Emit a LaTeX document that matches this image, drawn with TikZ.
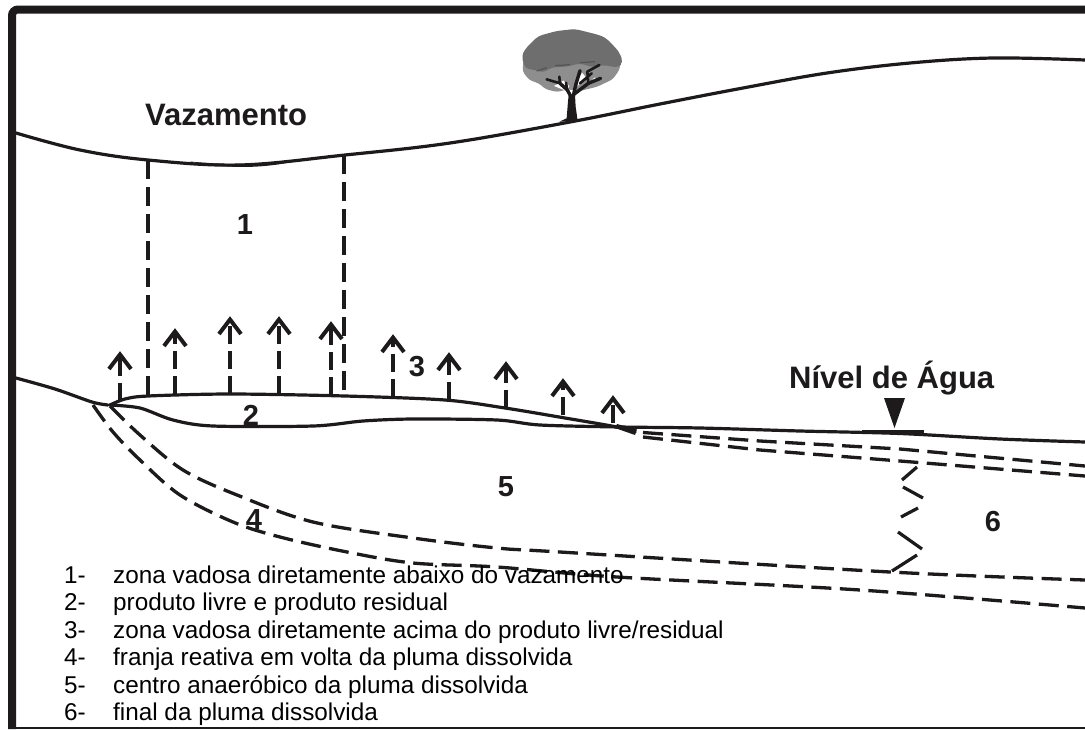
\documentclass[tikz,border=0pt]{standalone}
\usepackage{fontspec}
\setmainfont{Liberation Sans}
\definecolor{ink}{HTML}{1C1A1A}
\definecolor{crowndark}{HTML}{6E6E6E}
\definecolor{crownlight}{HTML}{8E8E8E}
\tikzset{
  ground/.style={draw=ink,line width=3.2pt,line cap=round,line join=round},
  plume/.style={draw=ink,line width=3.3pt,dash pattern=on 20pt off 8.5pt},
  vertdash/.style={draw=ink,line width=3.3pt,dash pattern=on 19pt off 8pt},
  zonelabel/.style={font=\bfseries\fontsize{29}{29}\selectfont,text=ink,inner sep=0pt},
  titlelabel/.style={font=\bfseries\fontsize{31}{31}\selectfont,text=ink,inner sep=0pt,anchor=base west},
  legendnum/.style={font=\fontsize{24.3}{24.3}\selectfont,text=black,inner sep=0pt,anchor=base west},
  legendtext/.style={font=\fontsize{24.3}{24.3}\selectfont,text=black,inner sep=0pt,anchor=base west},
  chevron/.style={draw=ink,line width=4pt,line join=miter,line cap=butt},
  branch/.style={draw=ink,line cap=round,line join=round},
}
\begin{document}
\begin{tikzpicture}[x=1pt,y=-1pt]
\useasboundingbox[fill=white] (0,0) rectangle (1085,729);

% outer frame, open on the right
\draw[draw=ink,line width=8pt,rounded corners=6pt] (12,729) -- (12,9.5) -- (1085,9.5);
\draw[draw=ink,line width=1.8pt] (12,728) -- (1085,728);

% land surface
\draw[ground] plot[smooth,tension=0.6] coordinates {(16,133) (80,150) (148,160) (240,165) (345,155) (450,143) (570,122) (660,104) (743,88) (827,73) (910,63) (993,58) (1085,60)};
\fill[ink] (190,161.5) .. controls (225,165) and (265,165) .. (300,160) .. controls (265,169) and (225,169) .. (190,161.5) -- cycle;

% tree: lower foliage, upper foliage, white gaps, trunk and branches
\begin{scope}[shift={(480,20)},x=0.3333pt,y=-0.3333pt]
  \fill[crownlight,rounded corners=3pt] (130,120) -- (128,155) -- (148,180) -- (176,190) -- (198,208) -- (232,216) -- (262,208) -- (300,213) -- (352,200) -- (398,178) -- (418,150) -- (424,120) -- cycle;
  \fill[crowndark,rounded corners=4pt] (125,108) -- (135,88) -- (150,72) -- (175,48) -- (230,33) -- (285,27) -- (350,43) -- (375,52) -- (392,68) -- (417,95) -- (429,125) -- (416,143) -- (370,135) -- (340,142) -- (300,130) -- (260,140) -- (215,142) -- (190,158) -- (165,150) -- (135,145) -- cycle;
  \fill[white] (222,198) -- (262,214) -- (268,198) -- (250,182) -- cycle;
  \fill[white] (293,198) -- (318,172) -- (306,158) -- (296,178) -- cycle;
  \fill[white] (325,190) -- (352,185) -- (345,172) -- cycle;
  \draw[ink!75,line width=1.2pt] (170,153) -- (200,143) (225,137) -- (270,134) (300,128) -- (345,125);
  \fill[ink] (238,305) -- (260,295) -- (264,245) -- (266,225) -- (285,225) -- (287,260) -- (293,303) -- cycle;
  \draw[branch,line width=3.4pt] (272,228) -- (262,210) -- (240,190);
  \draw[branch,line width=2.6pt] (240,190) -- (200,178) (240,190) -- (238,170);
  \draw[branch,line width=3.4pt] (280,228) -- (287,195) -- (300,152);
  \draw[branch,line width=3.4pt] (283,222) -- (325,190) -- (362,175);
  \draw[branch,line width=2.6pt] (325,190) -- (322,155) -- (358,135) (300,190) -- (335,160) (262,210) -- (258,188);
\end{scope}

% water table and free-product lens
\draw[ground] plot[smooth,tension=0.5] coordinates {(16,378) (55,389) (92,402) (108,405)};
\draw[ground] plot[smooth,tension=0.5] coordinates {(110,405) (125,399) (148,396) (230,394) (345,396) (445,400) (505,408) (565,418) (617,427) (635,432)};
\draw[ground] plot[smooth,tension=0.5] coordinates {(110,405) (140,408) (173,420) (213,426) (313,426) (363,421) (413,419) (497,420) (540,425) (620,427) (700,428) (800,431) (900,433.5) (1000,439) (1085,442)};
\fill[ink] (617,424) -- (637,429.5) -- (635,435) -- (615,428) -- cycle;

% water level marker
\draw[draw=ink,line width=3.6pt] (862,432) -- (924,432);
\fill[ink] (884,398) -- (905,398) -- (894.5,428) -- cycle;

% dissolved plume boundaries
\draw[plume] (643,432.5) -- (760,441) -- (900,449) -- (1085,466);
\draw[plume] (643,437) -- (760,450) -- (900,461) -- (1085,476);
\draw[plume] plot[smooth,tension=0.55] coordinates {(110,406) (140,435) (183,470) (237,495) (313,522) (413,538) (497,548) (560,552) (890,572) (1085,580)};
\draw[plume] plot[smooth,tension=0.55] coordinates {(93,405) (113,432) (140,460) (180,495) (233,522) (280,537) (347,552) (413,563) (497,567) (617,577) (860,590) (1085,608)};

% transverse boundary of the plume end
\foreach \xa/\ya/\xb/\yb in {917/467/902/480, 903/487/923/498, 918/508/901/517, 898/532/922/549, 917/555/892/571}
  \draw[draw=ink,line width=3.2pt] (\xa,\ya) -- (\xb,\yb);

% vertical limits below the spill
\draw[vertdash] (148,160) -- (148,396);
\draw[vertdash] (344,155) -- (344,396);

% upward vapour arrows: x, tip, base
\foreach \ax/\atip/\abase in {120/352/401, 175/329/394, 230/317/394, 279/317/394, 331/322/395, 393/335/397, 449/353/400, 506/362/408, 563/379/415, 613/396/423}{
  \draw[draw=ink,line width=3.2pt,dash pattern=on 18pt off 7pt] (\ax,\abase) -- (\ax,\atip+3);
  \draw[chevron] (\ax-11,\atip+17) -- (\ax,\atip+2.5) -- (\ax+11,\atip+17);
}

% headings and zone numbers
\node[titlelabel] (spill) at (145,125) {Vazamento};
\node[titlelabel] (level) at (789,388) {Nível de Água};
\node[zonelabel] (z1) at (245,225) {1};
\node[zonelabel] (z2) at (251,415) {2};
\node[zonelabel] (z3) at (417,367) {3};
\node[zonelabel] (z4) at (254,520) {4};
\node[zonelabel] (z5) at (506,487) {5};
\node[zonelabel] (z6) at (993,522) {6};

% legend
\node[legendnum] (n1) at (64,583) {1-};
\node[legendnum] (n2) at (64,610.5) {2-};
\node[legendnum] (n3) at (64,638) {3-};
\node[legendnum] (n4) at (64,665.5) {4-};
\node[legendnum] (n5) at (64,693) {5-};
\node[legendnum] (n6) at (64,720.5) {6-};
\node[legendtext] (t1) at (113,583) {zona vadosa diretamente abaixo do vazamento};
\node[legendtext] (t2) at (113,610.5) {produto livre e produto residual};
\node[legendtext] (t3) at (113,638) {zona vadosa diretamente acima do produto livre/residual};
\node[legendtext] (t4) at (113,665.5) {franja reativa em volta da pluma dissolvida};
\node[legendtext] (t5) at (113,693) {centro anaeróbico da pluma dissolvida};
\node[legendtext] (t6) at (113,720.5) {final da pluma dissolvida};
\end{tikzpicture}
\end{document}
